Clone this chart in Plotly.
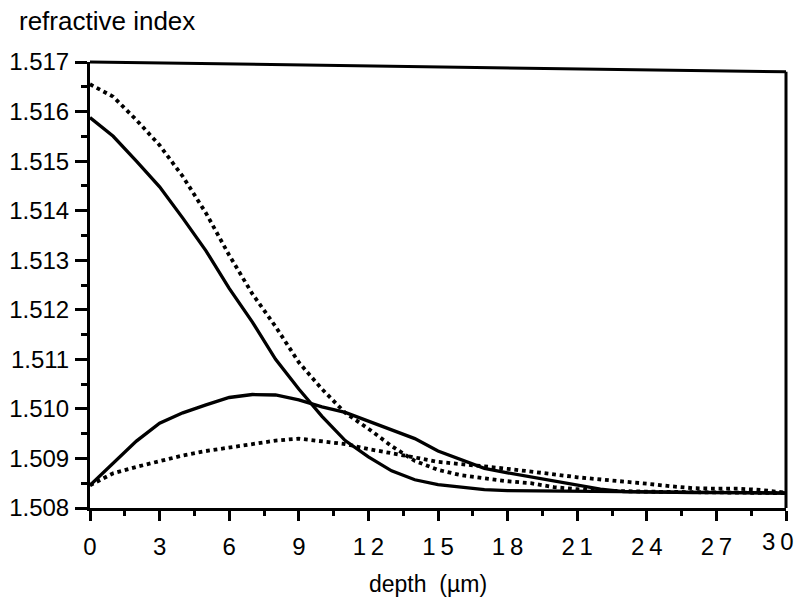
import plotly.graph_objects as go

# depth (µm) and refractive index values for the four profiles
depth_a = [0, 1, 2, 3, 4, 5, 6, 7, 8, 9, 10, 11, 12, 13, 14, 15, 16, 17, 18, 20, 22, 24, 26, 28, 30]
index_a = [1.51588, 1.51550, 1.51500, 1.51448, 1.51385, 1.51319, 1.51243, 1.51175, 1.51100, 1.51040,
           1.50985, 1.50936, 1.50903, 1.50875, 1.50857, 1.50847, 1.50842, 1.50837, 1.50835, 1.50834,
           1.50833, 1.50832, 1.50831, 1.50831, 1.50830]

depth_b = [0, 1, 2, 3, 4, 5, 6, 7, 8, 9, 10, 11, 12, 13, 14, 15, 16, 17, 18, 19, 20, 21, 22, 24, 26, 28, 30]
index_b = [1.51655, 1.51630, 1.51583, 1.51532, 1.51469, 1.51395, 1.51310, 1.51232, 1.51166, 1.51094,
           1.51040, 1.50992, 1.50960, 1.50925, 1.50895, 1.50877, 1.50866, 1.50860, 1.50854, 1.50850,
           1.50842, 1.50838, 1.50835, 1.50833, 1.50832, 1.50831, 1.50830]

depth_c = [0, 1, 2, 3, 4, 5, 6, 7, 8, 9, 10, 11, 12, 13, 14, 15, 16, 17, 18, 19, 20, 21, 22, 23, 24, 26, 28, 30]
index_c = [1.50846, 1.50890, 1.50935, 1.50971, 1.50992, 1.51008, 1.51023, 1.51029, 1.51028, 1.51018,
           1.51004, 1.50993, 1.50975, 1.50958, 1.50940, 1.50915, 1.50898, 1.50880, 1.50871, 1.50863,
           1.50855, 1.50847, 1.50838, 1.50833, 1.50832, 1.50831, 1.50831, 1.50830]

depth_d = list(range(0, 31))
index_d = [1.50846, 1.50870, 1.50883, 1.50895, 1.50906, 1.50915, 1.50922, 1.50930, 1.50936, 1.50940,
           1.50934, 1.50929, 1.50919, 1.50911, 1.50902, 1.50893, 1.50889, 1.50884, 1.50879, 1.50874,
           1.50868, 1.50862, 1.50858, 1.50853, 1.50849, 1.50844, 1.50840, 1.50839, 1.50839, 1.50836,
           1.50831]

x_ticks = [0, 3, 6, 9, 12, 15, 18, 21, 24, 27, 30]
x_tick_labels = ["0", "3", "6", "9", "1\u20092", "1\u20095", "1\u20098", "2\u20091",
                 "2\u20094", "2\u20097", ""]
last_x_label = "3\u20090"
y_ticks = [1.508, 1.509, 1.510, 1.511, 1.512, 1.513, 1.514, 1.515, 1.516, 1.517]
y_tick_labels = ["1.508", "1.509", "1.510", "1.511", "1.512", "1.513", "1.514", "1.515", "1.516", "1.517"]

FONT = "Liberation Sans, Arial, Helvetica, sans-serif"

fig = go.Figure()
fig.add_trace(go.Scatter(x=depth_a, y=index_a, mode="lines",
                         line=dict(color="black", width=3.3), showlegend=False))
fig.add_trace(go.Scatter(x=depth_b, y=index_b, mode="lines",
                         line=dict(color="black", width=3.8, dash="dot"), showlegend=False))
fig.add_trace(go.Scatter(x=depth_c, y=index_c, mode="lines",
                         line=dict(color="black", width=3.3), showlegend=False))
fig.add_trace(go.Scatter(x=depth_d, y=index_d, mode="lines",
                         line=dict(color="black", width=3.8, dash="dot"), showlegend=False))

fig.update_layout(
    width=794, height=601,
    margin=dict(l=82, r=16, t=54, b=101),
    paper_bgcolor="white", plot_bgcolor="white",
    font=dict(family=FONT, color="black"),
    xaxis=dict(range=[0, 30], tickvals=x_ticks, ticktext=x_tick_labels, automargin=False,
               ticks="outside", ticklen=10, tickwidth=3, tickcolor="black",
               minor=dict(dtick=1.5, ticks="outside", ticklen=5, tickwidth=3, tickcolor="black"),
               showline=True, linewidth=3, linecolor="black",
               showgrid=False, zeroline=False, tickfont=dict(size=24, family=FONT),
               ticklabelstandoff=5),
    yaxis=dict(range=[1.508, 1.517], tickvals=y_ticks, ticktext=y_tick_labels, automargin=False,
               ticks="outside", ticklen=12, tickwidth=3, tickcolor="black",
               minor=dict(dtick=0.0005, ticks="outside", ticklen=6, tickwidth=3, tickcolor="black"),
               showline=True, linewidth=3, linecolor="black",
               showgrid=False, zeroline=False, tickfont=dict(size=24, family=FONT),
               ticklabelstandoff=1),
    shapes=[
        dict(type="line", xref="paper", yref="paper", x0=0, y0=1.0, x1=1, y1=0.978,
             line=dict(color="black", width=3)),
        dict(type="line", xref="paper", yref="paper", x0=1, y0=0, x1=1, y1=0.978,
             line=dict(color="black", width=3)),
    ],
    annotations=[
        dict(text="refractive index", xref="paper", yref="paper", x=-0.105, y=1.092,
             xanchor="left", yanchor="middle", showarrow=False, font=dict(size=26, family=FONT)),
        dict(text="depth\u00a0 (\u00b5m)", xref="paper", yref="paper", x=0.4856, y=-0.17,
             xanchor="center", yanchor="middle", showarrow=False, font=dict(size=23, family=FONT)),
        dict(text=last_x_label, xref="x", yref="paper", x=x_ticks[-1], y=-0.075,
             xanchor="right", yanchor="middle", xshift=10, showarrow=False,
             font=dict(size=24, family=FONT)),
    ],
)

fig.write_html("out.html")
